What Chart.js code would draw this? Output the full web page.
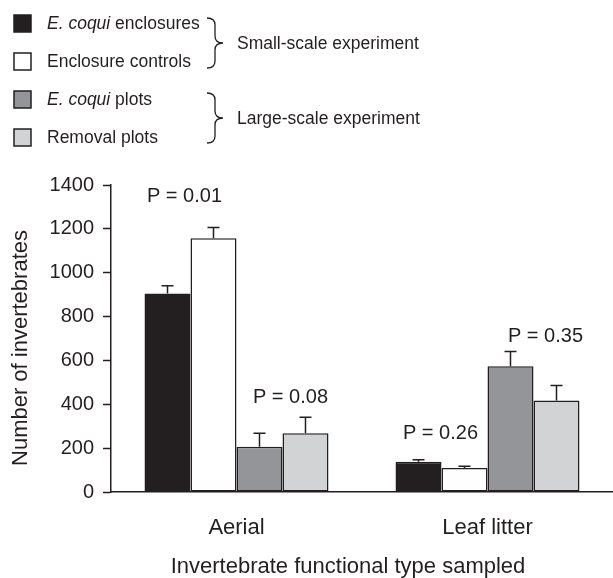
<!DOCTYPE html>
<html>
<head>
<meta charset="utf-8">
<script src="https://cdn.jsdelivr.net/npm/chart.js@4/dist/chart.umd.min.js"></script>
<style>
  html, body { margin: 0; padding: 0; background: #fff; }
  canvas { display: block; }
</style>
</head>
<body>
<canvas id="invertChart" width="613" height="578"></canvas>
<script>
// Chart data
const categories = ['Aerial', 'Leaf litter'];
const seriesNames = ['E. coqui enclosures', 'Enclosure controls', 'E. coqui plots', 'Removal plots'];
const coquiEnclosures = [905, 138];
const coquiEnclosuresErr = [35, 9];
const enclosureControls = [1157, 110];
const enclosureControlsErr = [49, 7];
const coquiPlots = [206, 573];
const coquiPlotsErr = [62, 68];
const removalPlots = [268, 417];
const removalPlotsErr = [73, 69];
const yTicks = [0, 200, 400, 600, 800, 1000, 1200, 1400];
const groupNames = ['Small-scale experiment', 'Large-scale experiment'];
const pLabels = ['P = 0.01', 'P = 0.08', 'P = 0.26', 'P = 0.35'];
const xTitle = 'Invertebrate functional type sampled';
const yTitle = 'Number of invertebrates';

const INK = '#231f20';
const FONT = "'Liberation Sans', Arial, Helvetica, sans-serif";

// which two datasets each P value sits over, and in which category
const pPairs = [[0, 1, 0], [2, 3, 0], [0, 1, 1], [2, 3, 1]];
const pShift = [[-6, 31], [8, 20], [-1, 26], [12, 15]];

// Error bars (upper only)
const errorBars = {
  id: 'errorBars',
  afterDatasetsDraw(chart) {
    const ctx = chart.ctx;
    const y = chart.scales.y;
    ctx.save();
    ctx.strokeStyle = INK;
    ctx.lineWidth = 1.5;
    chart.data.datasets.forEach((ds, i) => {
      const meta = chart.getDatasetMeta(i);
      meta.data.forEach((bar, j) => {
        const top = y.getPixelForValue(ds.data[j] + ds.errors[j]);
        ctx.beginPath();
        ctx.moveTo(bar.x, bar.y);
        ctx.lineTo(bar.x, top);
        ctx.moveTo(bar.x - 6, top);
        ctx.lineTo(bar.x + 6, top);
        ctx.stroke();
      });
    });
    ctx.restore();
  }
};

// P value labels above each pair of bars
const pValueLabels = {
  id: 'pValueLabels',
  afterDatasetsDraw(chart) {
    const ctx = chart.ctx;
    const y = chart.scales.y;
    const sets = chart.data.datasets;
    ctx.save();
    ctx.fillStyle = INK;
    ctx.font = '20px ' + FONT;
    ctx.textAlign = 'center';
    ctx.textBaseline = 'middle';
    pPairs.forEach((p, k) => {
      const [a, b, c] = p;
      const barA = chart.getDatasetMeta(a).data[c];
      const barB = chart.getDatasetMeta(b).data[c];
      const maxVal = Math.max(sets[a].data[c] + sets[a].errors[c], sets[b].data[c] + sets[b].errors[c]);
      const cx = (barA.x + barB.x) / 2 + pShift[k][0];
      const cy = y.getPixelForValue(maxVal) - pShift[k][1];
      ctx.fillText(pLabels[k], cx, cy);
    });
    ctx.restore();
  }
};

// Axis titles (placed where the original figure has them)
const axisTitles = {
  id: 'axisTitles',
  afterDraw(chart) {
    const ctx = chart.ctx;
    ctx.save();
    ctx.fillStyle = INK;
    ctx.font = '22px ' + FONT;
    ctx.textAlign = 'center';
    ctx.textBaseline = 'alphabetic';
    ctx.fillText(xTitle, 348, 573);
    ctx.translate(27, 348);
    ctx.rotate(-Math.PI / 2);
    ctx.fillText(yTitle, 0, 0);
    ctx.restore();
  }
};

// Legend with braces grouping the two experiments
function drawBrace(ctx, x0, top, bottom) {
  const xm = x0 + 8, xt = x0 + 16, r = 7;
  const mid = (top + bottom) / 2;
  ctx.beginPath();
  ctx.moveTo(x0, top);
  ctx.quadraticCurveTo(xm, top, xm, top + r);
  ctx.lineTo(xm, mid - r);
  ctx.quadraticCurveTo(xm, mid, xt, mid);
  ctx.quadraticCurveTo(xm, mid, xm, mid + r);
  ctx.lineTo(xm, bottom - r);
  ctx.quadraticCurveTo(xm, bottom, x0, bottom);
  ctx.stroke();
}

const braceLegend = {
  id: 'braceLegend',
  afterDraw(chart) {
    const ctx = chart.ctx;
    const rows = [24, 62, 100, 138];
    ctx.save();
    ctx.textBaseline = 'middle';
    chart.data.datasets.forEach((ds, i) => {
      const cy = rows[i];
      ctx.fillStyle = ds.backgroundColor;
      ctx.fillRect(14, cy - 9, 17, 17);
      ctx.strokeStyle = INK;
      ctx.lineWidth = 1.5;
      ctx.strokeRect(14, cy - 9, 17, 17);
      ctx.fillStyle = INK;
      let x = 47;
      let name = ds.label;
      if (name.startsWith('E. coqui')) {
        ctx.font = 'italic 17.5px ' + FONT;
        ctx.fillText('E. coqui', x, cy);
        x += ctx.measureText('E. coqui').width;
        name = name.slice(8);
      }
      ctx.font = '17.5px ' + FONT;
      ctx.fillText(name, x, cy);
    });
    ctx.strokeStyle = INK;
    ctx.lineWidth = 1.3;
    drawBrace(ctx, 207, 18, 68);
    drawBrace(ctx, 207, 93, 143);
    ctx.fillStyle = INK;
    ctx.font = '17.5px ' + FONT;
    ctx.fillText(groupNames[0], 237, 44);
    ctx.fillText(groupNames[1], 237, 119);
    ctx.restore();
  }
};

function makeSet(label, data, errors, color) {
  return {
    label: label,
    data: data,
    errors: errors,
    backgroundColor: color,
    borderColor: INK,
    borderWidth: 1.5,
    borderSkipped: false,
    barPercentage: 1.0,
    categoryPercentage: 0.733
  };
}

const ctx = document.getElementById('invertChart').getContext('2d');
new Chart(ctx, {
  type: 'bar',
  data: {
    labels: categories,
    datasets: [
      makeSet(seriesNames[0], coquiEnclosures, coquiEnclosuresErr, INK),
      makeSet(seriesNames[1], enclosureControls, enclosureControlsErr, '#ffffff'),
      makeSet(seriesNames[2], coquiPlots, coquiPlotsErr, '#939598'),
      makeSet(seriesNames[3], removalPlots, removalPlotsErr, '#d1d3d4')
    ]
  },
  options: {
    responsive: false,
    animation: false,
    devicePixelRatio: 1,
    layout: { padding: { top: 185, right: 0, left: 0, bottom: 0 } },
    plugins: {
      legend: { display: false },
      tooltip: { enabled: false }
    },
    scales: {
      x: {
        grid: { display: false, drawTicks: false },
        border: { display: true, color: INK, width: 1.5 },
        ticks: { color: INK, padding: 23, font: { family: FONT, size: 22 } },
        afterFit(scale) { scale.height = 86; }
      },
      y: {
        min: 0,
        max: 1400,
        afterBuildTicks(scale) { scale.ticks = yTicks.map(v => ({ value: v })); },
        grid: { drawOnChartArea: false, drawTicks: true, tickLength: 8, color: INK, tickWidth: 1.5 },
        border: { display: true, color: INK, width: 1.5 },
        ticks: {
          color: INK,
          padding: 9,
          font: { family: FONT, size: 20 },
          callback: v => String(v)
        },
        afterFit(scale) { scale.width = 111; }
      }
    }
  },
  plugins: [errorBars, pValueLabels, axisTitles, braceLegend]
});
</script>
</body>
</html>
